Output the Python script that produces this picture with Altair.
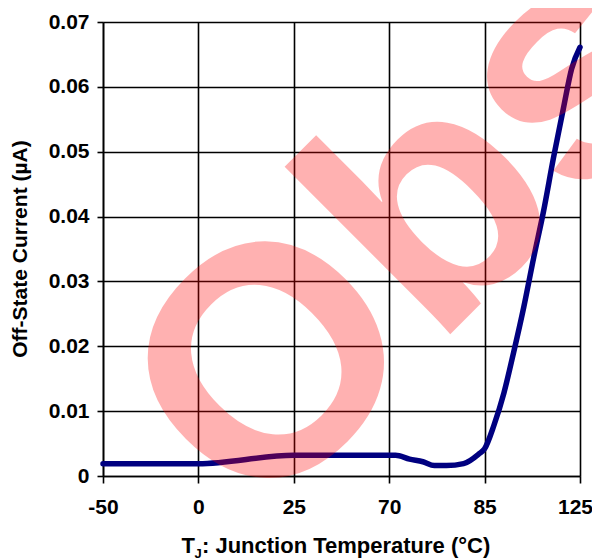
import altair as alt
import pandas as pd

# ---- data ----
temps = [-50, 0, 25, 71, 73.2, 75.3, 77.1, 79, 81.7, 84.1, 85, 88.9, 93.1,
         97.2, 101.4, 105.6, 109.7, 113.9, 118.1, 121.5, 125]
currents = [0.0019, 0.0019, 0.0032, 0.0032, 0.0026, 0.0022, 0.0016, 0.0016,
            0.0019, 0.0034, 0.0042, 0.0078, 0.0128, 0.0191, 0.0260, 0.0337,
            0.0408, 0.0491, 0.0568, 0.0628, 0.0661]
tick_temps = [-50, 0, 25, 70, 85, 125]
y_ticks = [0, 0.01, 0.02, 0.03, 0.04, 0.05, 0.06, 0.07]
y_title = ["Off-State Current (µA)"]
x_title_main = ["T"]
x_title_sub = ["J"]
x_title_rest = [": Junction Temperature (°C)"]
watermark = ["Obsolete"]

FONT = "Liberation Sans"
W, H = 477, 454

df = pd.DataFrame({"T": temps, "I": currents})
x_range = [i * W / (len(tick_temps) - 1) for i in range(len(tick_temps))]

xscale = alt.Scale(domain=tick_temps, range=x_range, nice=False, zero=False)
yscale = alt.Scale(domain=[0, 0.07], nice=False, zero=False)

line = alt.Chart(df).mark_line(
    color="#000080", strokeWidth=5.5, interpolate="monotone",
    strokeCap="round", strokeJoin="round"
).encode(
    x=alt.X("T:Q", scale=xscale,
            axis=alt.Axis(values=tick_temps, title=None,
                          labelExpr="datum.value + ''", labelFlush=False,
                          labelOffset={"condition": {"test": "datum.value == 125", "value": -5}, "value": 0},
                          labelPadding=13, tickSize=7, grid=True)),
    y=alt.Y("I:Q", scale=yscale,
            axis=alt.Axis(values=y_ticks, format=".2~f", title=None,
                          labelFlush=False,
                          labelPadding=8, tickSize=6, grid=True)),
)

ytitle = alt.Chart(pd.DataFrame({"t": y_title})).mark_text(
    angle=270, align="center", baseline="alphabetic",
    font=FONT, fontSize=21, fontWeight="bold", color="black"
).encode(text="t:N", x=alt.value(-76), y=alt.value(227))

xt1 = alt.Chart(pd.DataFrame({"t": x_title_main})).mark_text(
    align="left", baseline="alphabetic",
    font=FONT, fontSize=22, fontWeight="bold", color="black"
).encode(text="t:N", x=alt.value(78.5), y=alt.value(531))

xt2 = alt.Chart(pd.DataFrame({"t": x_title_sub})).mark_text(
    align="left", baseline="alphabetic",
    font=FONT, fontSize=13, fontWeight="bold", color="black"
).encode(text="t:N", x=alt.value(91.5), y=alt.value(536))

xt3 = alt.Chart(pd.DataFrame({"t": x_title_rest})).mark_text(
    align="left", baseline="alphabetic",
    font=FONT, fontSize=22, fontWeight="bold", color="black"
).encode(text="t:N", x=alt.value(99), y=alt.value(531))

wm = alt.Chart(pd.DataFrame({"t": watermark})).mark_text(
    angle=315, align="center", baseline="alphabetic",
    font=FONT, fontSize=325, fontWeight="bold", color="#FF0000", opacity=0.3
).encode(text="t:N", x=alt.value(645), y=alt.value(14.5))

chart = alt.layer(line, ytitle, xt1, xt2, xt3, wm).properties(
    width=W, height=H,
    autosize=alt.AutoSizeParams(type="none"),
    padding={"left": 95, "top": 14, "right": 12, "bottom": 84},
    background="white",
).configure_view(stroke=None).configure_axis(
    domainColor="black", domainWidth=1.6,
    tickColor="black", tickWidth=1.6,
    gridColor="black", gridWidth=1.6, gridOpacity=1,
    labelFont=FONT, labelFontSize=21, labelFontWeight="bold", labelColor="black",
)

chart.save("out.html", embed_options={"renderer": "svg", "actions": False})
